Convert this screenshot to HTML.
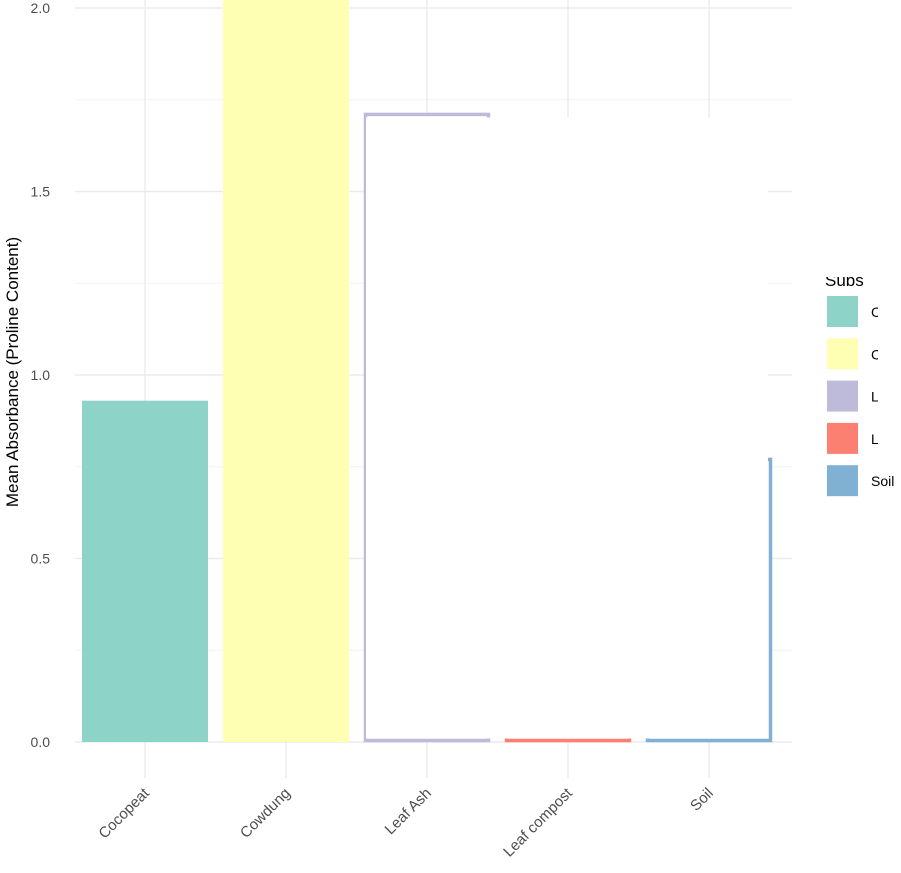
<!DOCTYPE html>
<html><head><meta charset="utf-8"><style>
html,body{margin:0;padding:0;background:#fff;}
svg{display:block;font-family:"Liberation Sans",sans-serif;}
</style></head><body>
<svg id="chart" width="901" height="873" viewBox="0 0 901 873">
<defs>
<clipPath id="legclip"><rect x="860" y="0" width="18" height="873"/></clipPath>
<clipPath id="titleclip"><rect x="800" y="277" width="101" height="30"/></clipPath>
</defs>
<g id="grid"></g>
<g id="bars"></g>
<rect x="366" y="117.5" width="402" height="621" fill="#fff"/>
<g id="yticks"></g>
<g id="xticks"></g>
<text transform="translate(18,372) rotate(-90)" text-anchor="middle" font-size="17" fill="#000">Mean Absorbance (Proline Content)</text>
<g clip-path="url(#titleclip)"><text x="825" y="286" font-size="17" fill="#000">Subs</text></g>
<g id="legend"></g>
</svg>
<script>
const categories = ["Cocopeat","Cowdung","Leaf Ash","Leaf compost","Soil"];
const values = [0.93, 2.2, 1.71, 0.5, 0.77];
const filled = [true, true, false, false, false];
const colors = ["#8dd3c7","#ffffb3","#bebada","#fb8072","#80b1d3"];
const yTicks = [0, 0.5, 1.0, 1.5, 2.0];
const yTickLabels = ["0.0","0.5","1.0","1.5","2.0"];
const NS="http://www.w3.org/2000/svg";
const x0=75, x1=792, yBase=742, pxPer=367, band=141, barW=126;
const y=v=>yBase - v*pxPer;
const xc=i=>145 + i*band;
function mk(t,a,p){const e=document.createElementNS(NS,t);for(const k in a)e.setAttribute(k,a[k]);p.appendChild(e);return e;}
const grid=document.getElementById('grid');
for(let i=0;i<yTicks.length;i++){
  const l=mk('line',{x1:x0,x2:x1,y1:y(yTicks[i]),y2:y(yTicks[i]),stroke:'#ebebeb','stroke-width':1.4},grid);
  
  
  if(i<yTicks.length-1){
    const m=mk('line',{x1:x0,x2:x1,y1:y((yTicks[i]+yTicks[i+1])/2),y2:y((yTicks[i]+yTicks[i+1])/2),stroke:'#f3f3f3','stroke-width':1},grid);
    
    
  }
}
categories.forEach((c,i)=>{
  const l=mk('line',{x1:xc(i),x2:xc(i),y1:0,y2:778,stroke:'#ebebeb','stroke-width':1.4},grid);
  
  
});
const bars=document.getElementById('bars');
const clampTop=0;
categories.forEach((c,i)=>{
  const top=Math.max(y(values[i]),clampTop);
  const bx=xc(i)-barW/2;
  let r;
  if(filled[i]) r=mk('rect',{x:bx,y:top,width:barW,height:yBase-top,fill:colors[i]},bars);
  else r=mk('rect',{x:bx+1.5,y:top,width:barW-3,height:yBase-top-1.5,fill:'#fff',stroke:colors[i],'stroke-width':3.5},bars);
  
  
});
const yt=document.getElementById('yticks');
yTicks.forEach((v,i)=>{
  const t=mk('text',{x:50,y:y(v)+5,'text-anchor':'end','font-size':14,fill:'#4d4d4d'},yt);
  t.textContent=yTickLabels[i];
  
  
});
const xt=document.getElementById('xticks');
categories.forEach((c,i)=>{
  const t=mk('text',{transform:`translate(${xc(i)+5},${794}) rotate(-45)`,'text-anchor':'end','font-size':15,fill:'#4d4d4d'},xt);
  t.textContent=c;
  
  
});
const lg=document.getElementById('legend');
categories.forEach((c,i)=>{
  const ky=296+i*42.3;
  const k=mk('rect',{x:827,y:ky,width:31,height:31,fill:colors[i]},lg);
  
  
  const g=mk('g',i<4?{'clip-path':'url(#legclip)'}:{},lg);
  const t=mk('text',{x:871,y:ky+21,'font-size':14,fill:'#000'},g);
  t.textContent=c;
  
  
});
</script>
</body></html>
